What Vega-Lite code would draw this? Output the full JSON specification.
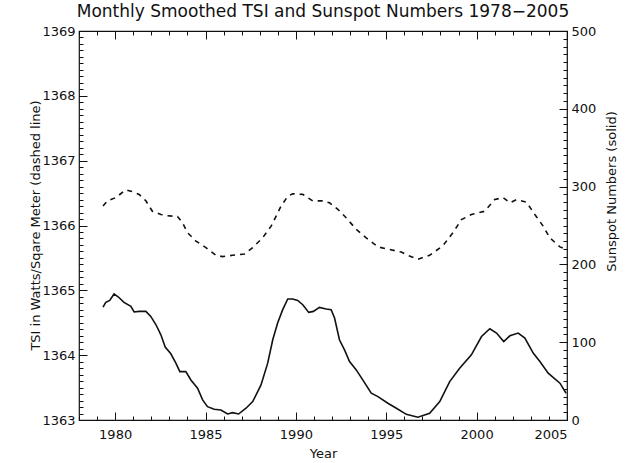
{
  "$schema": "https://vega.github.io/schema/vega-lite/v6.json",
  "autosize": "none",
  "width": 488,
  "height": 389,
  "padding": {"left": 79, "top": 31, "right": 64, "bottom": 43},
  "background": "white",
  "title": {"text": "Monthly Smoothed TSI and Sunspot Numbers 1978−2005", "fontSize": 17, "fontWeight": "normal", "font": "DejaVu Sans", "color": "#111", "anchor": "middle", "offset": 4},
  "config": {
    "view": {"stroke": "#111", "strokeWidth": 1.2},
    "axis": {"labelFont": "DejaVu Sans", "titleFont": "DejaVu Sans", "labelFontSize": 13, "titleFontSize": 13, "titleFontWeight": "normal", "labelColor": "#111", "titleColor": "#111", "tickColor": "#111", "grid": false, "domain": false, "tickWidth": 1}
  },
  "datasets": {
    "tsi": [
      {"year": 1979.33, "tsi": 1366.30}, {"year": 1979.57, "tsi": 1366.38}, {"year": 1980.03, "tsi": 1366.43},
      {"year": 1980.59, "tsi": 1366.55}, {"year": 1980.87, "tsi": 1366.53}, {"year": 1981.33, "tsi": 1366.48},
      {"year": 1981.70, "tsi": 1366.38}, {"year": 1982.06, "tsi": 1366.22}, {"year": 1982.53, "tsi": 1366.17},
      {"year": 1982.89, "tsi": 1366.15}, {"year": 1983.45, "tsi": 1366.14}, {"year": 1983.73, "tsi": 1366.04},
      {"year": 1984.00, "tsi": 1365.89}, {"year": 1984.47, "tsi": 1365.76}, {"year": 1985.02, "tsi": 1365.66},
      {"year": 1985.58, "tsi": 1365.54}, {"year": 1985.94, "tsi": 1365.52}, {"year": 1986.50, "tsi": 1365.54},
      {"year": 1987.15, "tsi": 1365.56}, {"year": 1987.61, "tsi": 1365.66}, {"year": 1988.16, "tsi": 1365.81},
      {"year": 1988.63, "tsi": 1365.99}, {"year": 1988.90, "tsi": 1366.14}, {"year": 1989.18, "tsi": 1366.30},
      {"year": 1989.55, "tsi": 1366.45}, {"year": 1989.82, "tsi": 1366.49}, {"year": 1990.38, "tsi": 1366.48},
      {"year": 1990.93, "tsi": 1366.38}, {"year": 1991.49, "tsi": 1366.38}, {"year": 1991.86, "tsi": 1366.35},
      {"year": 1992.32, "tsi": 1366.25}, {"year": 1992.78, "tsi": 1366.12}, {"year": 1993.34, "tsi": 1365.94},
      {"year": 1993.89, "tsi": 1365.81}, {"year": 1994.54, "tsi": 1365.67}, {"year": 1995.18, "tsi": 1365.63},
      {"year": 1995.83, "tsi": 1365.59}, {"year": 1996.20, "tsi": 1365.54}, {"year": 1996.75, "tsi": 1365.48},
      {"year": 1997.40, "tsi": 1365.54}, {"year": 1998.14, "tsi": 1365.69}, {"year": 1998.69, "tsi": 1365.89},
      {"year": 1999.16, "tsi": 1366.09}, {"year": 1999.71, "tsi": 1366.17}, {"year": 2000.45, "tsi": 1366.22},
      {"year": 2001.00, "tsi": 1366.40}, {"year": 2001.46, "tsi": 1366.43}, {"year": 2001.84, "tsi": 1366.35},
      {"year": 2002.21, "tsi": 1366.40}, {"year": 2002.76, "tsi": 1366.36}, {"year": 2003.22, "tsi": 1366.17},
      {"year": 2003.68, "tsi": 1365.99}, {"year": 2004.05, "tsi": 1365.81}, {"year": 2004.61, "tsi": 1365.67},
      {"year": 2004.94, "tsi": 1365.63}
    ],
    "ssn": [
      {"year": 1979.33, "ssn": 145.2}, {"year": 1979.48, "ssn": 151.2}, {"year": 1979.70, "ssn": 153.7},
      {"year": 1979.94, "ssn": 162.0}, {"year": 1980.18, "ssn": 158.1}, {"year": 1980.49, "ssn": 151.2},
      {"year": 1980.87, "ssn": 146.0}, {"year": 1981.05, "ssn": 138.8}, {"year": 1981.33, "ssn": 139.6},
      {"year": 1981.70, "ssn": 139.6}, {"year": 1981.97, "ssn": 133.1}, {"year": 1982.26, "ssn": 122.4},
      {"year": 1982.53, "ssn": 109.5}, {"year": 1982.77, "ssn": 93.7}, {"year": 1983.08, "ssn": 85.1},
      {"year": 1983.36, "ssn": 73.1}, {"year": 1983.58, "ssn": 62.2}, {"year": 1983.91, "ssn": 62.2},
      {"year": 1984.19, "ssn": 51.5}, {"year": 1984.56, "ssn": 40.9}, {"year": 1984.84, "ssn": 25.8},
      {"year": 1985.11, "ssn": 17.1}, {"year": 1985.48, "ssn": 13.8}, {"year": 1985.85, "ssn": 12.9},
      {"year": 1986.22, "ssn": 7.7}, {"year": 1986.50, "ssn": 9.4}, {"year": 1986.83, "ssn": 7.7},
      {"year": 1987.24, "ssn": 15.1}, {"year": 1987.61, "ssn": 23.6}, {"year": 1988.07, "ssn": 45.1},
      {"year": 1988.44, "ssn": 73.1}, {"year": 1988.72, "ssn": 103.1}, {"year": 1988.99, "ssn": 124.6},
      {"year": 1989.27, "ssn": 141.8}, {"year": 1989.55, "ssn": 155.5}, {"year": 1989.82, "ssn": 155.5},
      {"year": 1990.10, "ssn": 153.7}, {"year": 1990.38, "ssn": 148.2}, {"year": 1990.71, "ssn": 138.3},
      {"year": 1990.97, "ssn": 139.6}, {"year": 1991.30, "ssn": 144.7}, {"year": 1991.68, "ssn": 142.7},
      {"year": 1991.95, "ssn": 141.8}, {"year": 1992.14, "ssn": 131.1}, {"year": 1992.41, "ssn": 103.1},
      {"year": 1992.69, "ssn": 90.2}, {"year": 1992.97, "ssn": 75.1}, {"year": 1993.34, "ssn": 64.4},
      {"year": 1993.70, "ssn": 51.5}, {"year": 1994.17, "ssn": 34.4}, {"year": 1994.54, "ssn": 30.0},
      {"year": 1995.09, "ssn": 21.5}, {"year": 1995.56, "ssn": 15.1}, {"year": 1996.11, "ssn": 7.3},
      {"year": 1996.75, "ssn": 3.5}, {"year": 1997.40, "ssn": 8.6}, {"year": 1997.96, "ssn": 23.6},
      {"year": 1998.51, "ssn": 49.4}, {"year": 1999.06, "ssn": 66.6}, {"year": 1999.71, "ssn": 83.8},
      {"year": 2000.27, "ssn": 107.3}, {"year": 2000.73, "ssn": 117.3}, {"year": 2001.10, "ssn": 111.7},
      {"year": 2001.50, "ssn": 100.9}, {"year": 2001.84, "ssn": 108.2}, {"year": 2002.30, "ssn": 111.7},
      {"year": 2002.67, "ssn": 105.3}, {"year": 2003.13, "ssn": 86.0}, {"year": 2003.50, "ssn": 75.1},
      {"year": 2003.96, "ssn": 60.2}, {"year": 2004.61, "ssn": 47.3}, {"year": 2004.95, "ssn": 34.4}
    ]
  },
  "layer": [
    {
      "data": {"name": "tsi"},
      "mark": {"type": "line", "color": "#111", "strokeWidth": 1.6, "strokeDash": [5, 5]},
      "encoding": {
        "x": {"field": "year", "type": "quantitative", "scale": {"domain": [1978, 2005], "nice": false, "zero": false},
              "axis": {"orient": "bottom", "values": [1980, 1985, 1990, 1995, 2000, 2005], "format": "d", "title": "Year", "tickSize": -8, "labelPadding": 16, "titlePadding": 6}},
        "y": {"field": "tsi", "type": "quantitative", "scale": {"domain": [1363, 1369], "nice": false, "zero": false},
              "axis": {"orient": "left", "values": [1363, 1364, 1365, 1366, 1367, 1368, 1369], "format": "d", "title": "TSI in Watts/Sqare Meter (dashed line)", "tickSize": -8, "labelPadding": 12, "titleX": -44, "titleY": 194, "titleAngle": 270, "titleAlign": "center", "titleBaseline": "middle"}}
      }
    },
    {
      "data": {"name": "ssn"},
      "mark": {"type": "line", "color": "#111", "strokeWidth": 1.6},
      "encoding": {
        "x": {"field": "year", "type": "quantitative", "scale": {"domain": [1978, 2005], "nice": false, "zero": false},
              "axis": {"orient": "top", "values": [1980, 1985, 1990, 1995, 2000, 2005], "labels": false, "title": null, "tickSize": -8}},
        "y": {"field": "ssn", "type": "quantitative", "scale": {"domain": [0, 500], "nice": false, "zero": false},
              "axis": {"orient": "right", "values": [0, 100, 200, 300, 400, 500], "format": "d", "title": "Sunspot Numbers (solid)", "titleAngle": 270, "titleX": 44, "titleY": 160, "titleAlign": "center", "titleBaseline": "middle", "tickSize": -8, "labelPadding": 12}}
      }
    },
    {
      "data": {"name": "tsi"},
      "mark": {"type": "line", "strokeOpacity": 0},
      "encoding": {
        "x": {"field": "year", "type": "quantitative", "scale": {"domain": [1978, 2005], "nice": false, "zero": false},
              "axis": {"orient": "bottom", "tickCount": 27, "labels": false, "title": null, "tickSize": -4}},
        "y": {"field": "tsi", "type": "quantitative", "scale": {"domain": [1363, 1369], "nice": false, "zero": false},
              "axis": {"orient": "left", "tickCount": 60, "labels": false, "title": null, "tickSize": -4}}
      }
    },
    {
      "data": {"name": "ssn"},
      "mark": {"type": "line", "strokeOpacity": 0},
      "encoding": {
        "x": {"field": "year", "type": "quantitative", "scale": {"domain": [1978, 2005], "nice": false, "zero": false},
              "axis": {"orient": "top", "tickCount": 27, "labels": false, "title": null, "tickSize": -4}},
        "y": {"field": "ssn", "type": "quantitative", "scale": {"domain": [0, 500], "nice": false, "zero": false},
              "axis": {"orient": "right", "tickCount": 50, "labels": false, "title": null, "tickSize": -4}}
      }
    }
  ],
  "resolve": {"scale": {"y": "independent"}, "axis": {"x": "independent", "y": "independent"}}
}
